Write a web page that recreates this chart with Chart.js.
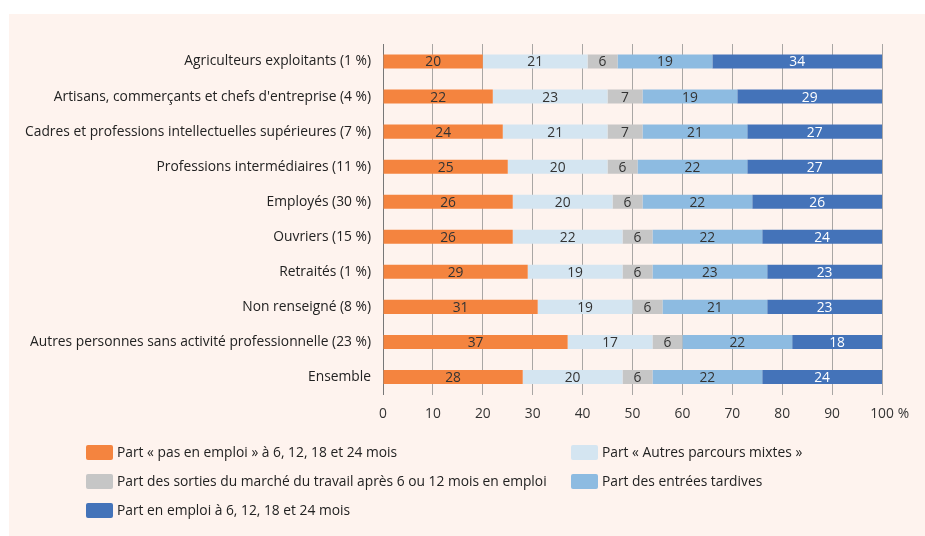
<!DOCTYPE html>
<html>
<head>
<meta charset="utf-8">
<script src="https://cdn.jsdelivr.net/npm/chart.js@4.4.0/dist/chart.umd.min.js"></script>
<style>
	body { margin: 0; background: #ffffff; font-family: "Open Sans", sans-serif; }
	#panel { position: absolute; left: 9px; top: 14px; width: 916px; height: 522px; background: #fef3ee; }
	#wrap { position: absolute; left: 0; top: 0; width: 925px; height: 536px; }
	.leg { position: absolute; font-size: 13.8px; color: #222; line-height: 16px; white-space: nowrap; }
	.leg span { position: absolute; left: 0; top: 0; width: 27px; height: 15px; border-radius: 2px; }
	.leg b { font-weight: normal; position: absolute; left: 31px; top: -1px; }
</style>
</head>
<body>
<div id="panel"></div>
<div id="wrap"><canvas id="myChart" width="925" height="536"></canvas></div>
<div id="legend"></div>
<script>
const categories = [
	'Agriculteurs exploitants (1 %)',
	'Artisans, commerçants et chefs d\'entreprise (4 %)',
	'Cadres et professions intellectuelles supérieures (7 %)',
	'Professions intermédiaires (11 %)',
	'Employés (30 %)',
	'Ouvriers (15 %)',
	'Retraités (1 %)',
	'Non renseigné (8 %)',
	'Autres personnes sans activité professionnelle (23 %)',
	'Ensemble'
];

const pasEnEmploi   = [20, 22, 24, 25, 26, 26, 29, 31, 37, 28];
const parcoursMixte = [21, 23, 21, 20, 20, 22, 19, 19, 17, 20];
const sorties       = [6, 7, 7, 6, 6, 6, 6, 6, 6, 6];
const entreesTard   = [19, 19, 21, 22, 22, 22, 23, 21, 22, 22];
const enEmploi      = [34, 29, 27, 27, 26, 24, 23, 23, 18, 24];

const xTicks = [0, 10, 20, 30, 40, 50, 60, 70, 80, 90, 100];

const seriesNames = [
	'Part « pas en emploi » à 6, 12, 18 et 24 mois',
	'Part « Autres parcours mixtes »',
	'Part des sorties du marché du travail après 6 ou 12 mois en emploi',
	'Part des entrées tardives',
	'Part en emploi à 6, 12, 18 et 24 mois'
];
const colors = ['#f4843f', '#d4e5f1', '#c6c6c6', '#8dbbe1', '#4473b9'];
const labelColors = ['#333333', '#333333', '#333333', '#333333', '#ffffff'];
const allData = [pasEnEmploi, parcoursMixte, sorties, entreesTard, enEmploi];

const fontFam = '"Open Sans", sans-serif';
const fSize = 13.8;

// values written inside each segment
const barLabels = {
	id: 'barLabels',
	afterDatasetsDraw(chart) {
		const ctx = chart.ctx;
		ctx.save();
		ctx.font = fSize + 'px ' + fontFam;
		ctx.textAlign = 'center';
		ctx.textBaseline = 'middle';
		chart.data.datasets.forEach(function(ds, i) {
			const meta = chart.getDatasetMeta(i);
			meta.data.forEach(function(bar, j) {
				ctx.fillStyle = labelColors[i];
				ctx.fillText(ds.data[j], (bar.x + bar.base) / 2, bar.y + 1);
			});
		});
		ctx.restore();
	}
};

// " %" after the last tick
const pctTick = {
	id: 'pctTick',
	afterDraw(chart) {
		const ctx = chart.ctx;
		const xs = chart.scales.x;
		ctx.save();
		ctx.font = fSize + 'px ' + fontFam;
		const w = ctx.measureText('100').width;
		ctx.fillStyle = '#333333';
		ctx.textBaseline = 'middle';
		ctx.textAlign = 'left';
		ctx.fillText('%', xs.getPixelForValue(100) + w / 2 + 4, 414);
		ctx.restore();
	}
};

const config = {
	type: 'bar',
	data: {
		labels: categories,
		datasets: allData.map(function(d, i) {
			return {
				label: seriesNames[i],
				data: d,
				backgroundColor: colors[i],
				borderWidth: 0,
				barPercentage: 0.4,
				categoryPercentage: 1
			};
		})
	},
	options: {
		indexAxis: 'y',
		responsive: false,
		animation: false,
		layout: { padding: { left: 0, top: 44, right: 43, bottom: 0 } },
		plugins: {
			legend: { display: false },
			tooltip: { enabled: false }
		},
		scales: {
			x: {
				stacked: true,
				min: 0,
				max: 100,
				afterBuildTicks: function(scale) {
					scale.ticks = xTicks.map(function(v) { return { value: v }; });
				},
				afterFit: function(scale) { scale.height = 141.5; },
				grid: { color: '#a9a6a4', lineWidth: 1, drawTicks: false },
				border: { display: false },
				ticks: {
					padding: 11,
					color: '#333333',
					font: { family: fontFam, size: fSize },
					maxRotation: 0
				}
			},
			y: {
				stacked: true,
				afterFit: function(scale) { scale.width = 383; },
				grid: { display: false, drawTicks: false },
				border: { display: true, color: '#777777', width: 1 },
				ticks: {
					padding: 12,
					color: '#222222',
					font: { family: fontFam, size: fSize }
				}
			}
		}
	},
	plugins: [barLabels, pctTick]
};

const myChart = new Chart(document.getElementById('myChart'), config);

// legend in two columns
const legendPos = [[86, 445], [571, 445], [86, 474], [571, 474], [86, 503]];
const legendBox = document.getElementById('legend');
seriesNames.forEach(function(name, i) {
	const item = document.createElement('div');
	item.className = 'leg';
	item.style.left = legendPos[i][0] + 'px';
	item.style.top = legendPos[i][1] + 'px';
	const sw = document.createElement('span');
	sw.style.background = colors[i];
	const tx = document.createElement('b');
	tx.textContent = name;
	item.appendChild(sw);
	item.appendChild(tx);
	legendBox.appendChild(item);
});
</script>
</body>
</html>
